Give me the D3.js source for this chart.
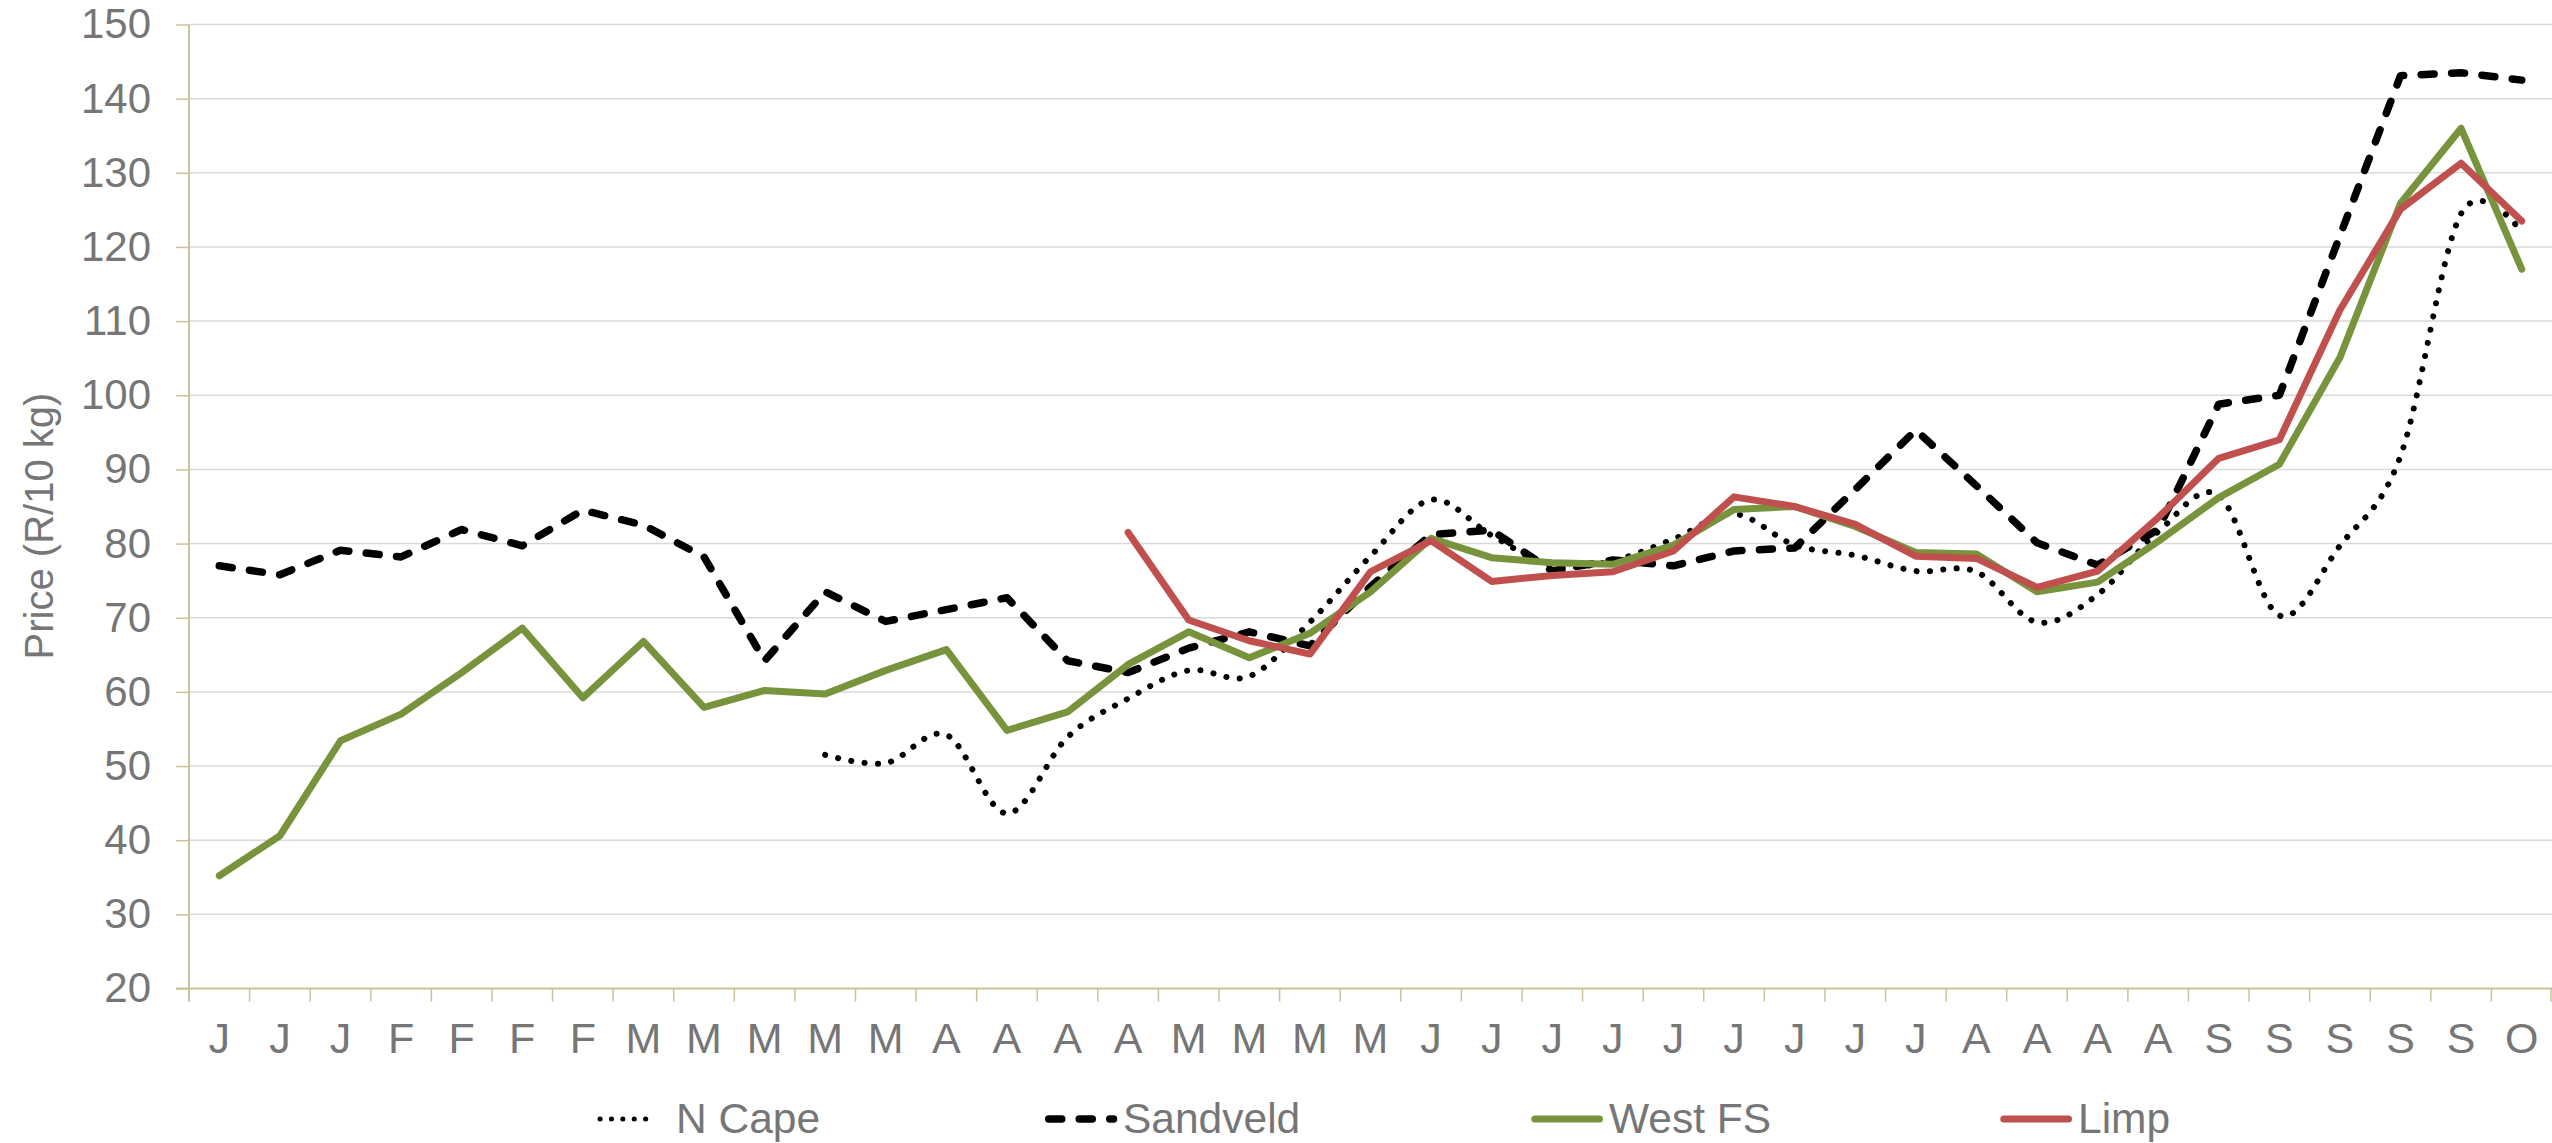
<!DOCTYPE html>
<html>
<head>
<meta charset="utf-8">
<script src="https://cdn.jsdelivr.net/npm/d3@7"></script>
<style>
  html, body { margin: 0; padding: 0; background: #ffffff; }
  svg { display: block; }
  text { font-family: "Liberation Sans", Arial, sans-serif; fill: #767676; }
</style>
</head>
<body>
<svg id="chart" width="2552" height="1143"></svg>
<script>
// ---- DATA ----
const categories = ["J","J","J","F","F","F","F","M","M","M","M","M","A","A","A","A","M","M","M","M",
                    "J","J","J","J","J","J","J","J","J","A","A","A","A","S","S","S","S","S","O"];
const yTicks = [20,30,40,50,60,70,80,90,100,110,120,130,140,150];
const seriesNames = ["N Cape","Sandveld","West FS","Limp"];

const nCape = [null,null,null,null,null,null,null,null,null,null,
  51.5,50.4,54.2,43.6,53.9,59.1,62.9,62.1,69.4,78.3,
  85.9,81.1,77.0,77.7,80.6,84.0,79.8,78.4,76.3,76.2,
  69.4,73.1,81.6,86.5,70.3,79.7,91.8,124.5,122.0];
const sandveld = [77.0,75.8,79.1,78.2,81.9,79.7,84.5,82.5,78.2,64.2,
  73.5,69.5,71.1,72.7,64.2,62.6,65.9,68.1,66.2,74.2,
  81.2,81.8,76.3,77.8,77.0,79.0,79.4,87.3,95.3,87.8,
  80.1,77.1,81.9,98.8,100.0,121.5,143.1,143.5,142.5];
const westFS = [35.2,40.6,53.4,57.0,62.6,68.6,59.2,66.8,57.9,60.2,
  59.7,62.9,65.7,54.8,57.3,63.7,68.1,64.6,67.9,73.5,
  80.7,78.1,77.4,77.2,79.8,84.6,85.0,82.3,78.8,78.6,
  73.5,74.8,80.3,86.2,90.7,105.1,125.9,136.0,117.0];
const limp = [null,null,null,null,null,null,null,null,null,null,
  null,null,null,null,null,81.5,69.7,66.9,65.1,76.2,
  80.4,74.9,75.7,76.2,79.0,86.3,85.0,82.6,78.3,78.0,
  74.1,76.3,83.5,91.5,94.0,111.5,125.1,131.3,123.5];

// ---- LAYOUT ----
const svg = d3.select("#chart");
const plotL = 189, plotR = 2552, plotT = 24.5, plotB = 988.5;
const axisColor = "#c9c29a", gridColor = "#d9d9d9";

const x = d3.scaleBand().domain(d3.range(categories.length)).range([plotL, plotR]).paddingInner(0).paddingOuter(0);
const y = d3.scaleLinear().domain([20, 150]).range([plotB, plotT]);
const cx = i => x(i) + x.bandwidth() / 2;

// gridlines
svg.append("g").selectAll("line").data(yTicks.filter(v => v !== 20)).join("line")
  .attr("x1", plotL).attr("x2", plotR)
  .attr("y1", d => y(d)).attr("y2", d => y(d))
  .attr("stroke", gridColor).attr("stroke-width", 1.5);

// y axis
const yAxis = d3.axisLeft(y).tickValues(yTicks).tickSize(13).tickPadding(25).tickFormat(d3.format("d"));
const gy = svg.append("g").attr("transform", `translate(${plotL},0)`).call(yAxis);
gy.select(".domain").remove();
gy.selectAll(".tick line").attr("stroke", axisColor).attr("stroke-width", 1.5);
gy.selectAll(".tick text").attr("font-size", 42).attr("fill", "#767676")
  .attr("font-family", '"Liberation Sans", Arial, sans-serif');
svg.append("line").attr("x1", plotL).attr("x2", plotL).attr("y1", plotT).attr("y2", plotB + 13)
  .attr("stroke", axisColor).attr("stroke-width", 2);

// x axis
svg.append("line").attr("x1", plotL - 13).attr("x2", plotR).attr("y1", plotB).attr("y2", plotB)
  .attr("stroke", axisColor).attr("stroke-width", 2);
const bounds = d3.range(categories.length + 1).map(i => i < categories.length ? x(i) : plotR - 1);
svg.append("g").selectAll("line").data(bounds).join("line")
  .attr("x1", d => d).attr("x2", d => d).attr("y1", plotB).attr("y2", plotB + 13)
  .attr("stroke", axisColor).attr("stroke-width", 1.5);
svg.append("g").selectAll("text").data(categories).join("text")
  .attr("x", (d, i) => cx(i)).attr("y", 1053)
  .attr("text-anchor", "middle").attr("font-size", 43)
  .text(d => d);

// y title
svg.append("text").attr("transform", "translate(53,526) rotate(-90)")
  .attr("text-anchor", "middle").attr("font-size", 40).text("Price (R/10 kg)");

// ---- SERIES ----
const styles = [
  { data: nCape,    color: "#000000", width: 6,   dash: "0.1 13.3", legendDash: "0.1 11.3", cap: "round", curve: d3.curveCardinal.tension(0) },
  { data: sandveld, color: "#000000", width: 7.5, dash: "13 17.5",  legendDash: "13 17.5",  cap: "round", curve: d3.curveLinear },
  { data: westFS,   color: "#77933c", width: 7,   dash: null,       legendDash: null,       cap: "round", curve: d3.curveLinear },
  { data: limp,     color: "#c0504d", width: 7,   dash: null,       legendDash: null,       cap: "round", curve: d3.curveLinear }
];

styles.forEach(s => {
  const line = d3.line()
    .defined(d => d != null)
    .x((d, i) => cx(i))
    .y(d => y(d))
    .curve(s.curve);
  svg.append("path")
    .attr("d", line(s.data))
    .attr("fill", "none")
    .attr("stroke", s.color)
    .attr("stroke-width", s.width)
    .attr("stroke-linecap", s.cap)
    .attr("stroke-linejoin", "round")
    .attr("stroke-dasharray", s.dash);
});

// ---- LEGEND ----
const legendX = [597, 1045, 1531, 2000];
const legendY = 1119;
const lg = svg.append("g");
seriesNames.forEach((name, k) => {
  const s = styles[k];
  lg.append("line")
    .attr("x1", legendX[k] + (k === 0 ? 3 : 3.75)).attr("x2", legendX[k] + (k === 0 ? 57 : 72 - 3.5))
    .attr("y1", legendY).attr("y2", legendY)
    .attr("stroke", s.color).attr("stroke-width", k === 0 ? 5 : s.width)
    .attr("stroke-linecap", s.cap)
    .attr("stroke-dasharray", s.legendDash);
  lg.append("text")
    .attr("x", k === 0 ? 676 : legendX[k] + 78).attr("y", 1133)
    .attr("font-size", 42.5).text(name);
});
</script>
</body>
</html>
